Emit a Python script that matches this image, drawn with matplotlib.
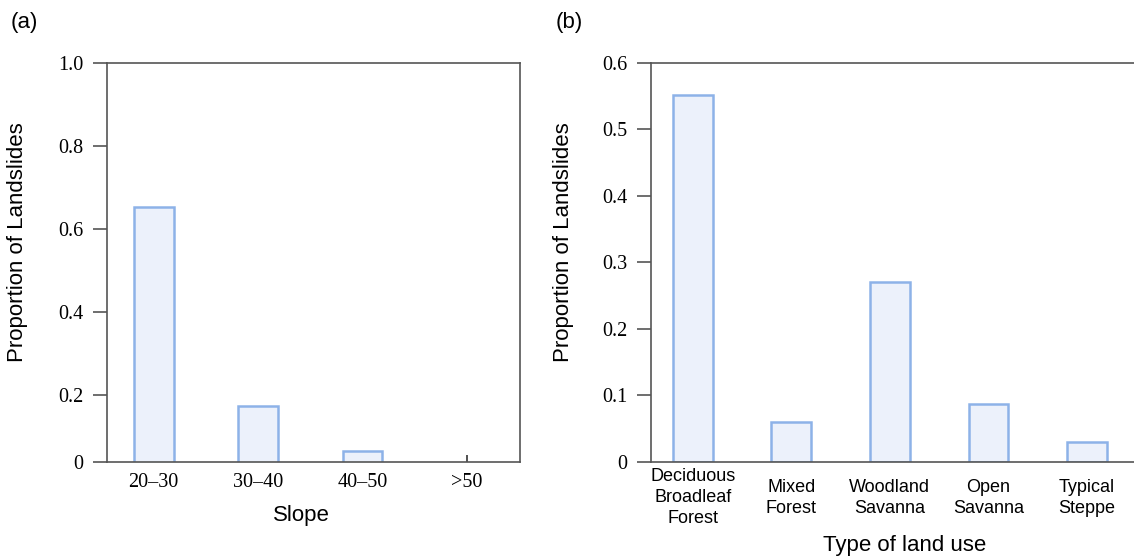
import matplotlib
matplotlib.use("Agg")
import matplotlib.pyplot as plt

# panel (a): slope classes
slope_classes = ["20\u201330", "30\u201340", "40\u201350", ">50"]
slope_props = [0.653, 0.173, 0.065, 0.0]
slope_yticks = [0.0386, 0.2, 0.4, 0.6, 0.8, 1.0]
slope_ylabels = ["0", "0.2", "0.4", "0.6", "0.8", "1.0"]

# panel (b): land use types
land_types = ["Deciduous\nBroadleaf\nForest", "Mixed\nForest", "Woodland\nSavanna",
              "Open\nSavanna", "Typical\nSteppe"]
land_props = [0.552, 0.060, 0.270, 0.087, 0.029]
land_yticks = [0, 0.1, 0.2, 0.3, 0.4, 0.5, 0.6]
land_ylabels = ["0", "0.1", "0.2", "0.3", "0.4", "0.5", "0.6"]

fill = "#ecf1fb"
edge = "#8db2e8"
spine_col = "#555555"
serif = ["Liberation Serif", "DejaVu Serif"]
sans = ["Liberation Sans", "DejaVu Sans"]

fig = plt.figure(figsize=(11.34, 5.59), dpi=100)
ax1 = fig.add_axes([0.0941, 0.174, 0.3645, 0.7138])
ax2 = fig.add_axes([0.5738, 0.174, 0.4359, 0.7138])


def style(ax):
    for s in ax.spines.values():
        s.set_color(spine_col)
        s.set_linewidth(1.2)
    ax.tick_params(axis="y", direction="out", length=10, width=1.2, color=spine_col, pad=7)
    ax.tick_params(axis="x", direction="in", length=5, width=1.2, color="#333333")
    for lab in ax.get_yticklabels():
        lab.set_fontfamily(serif)
        lab.set_fontsize(14.5)


# (a)
x1 = range(len(slope_classes))
ax1.bar(x1, slope_props, width=0.38, color=fill, edgecolor=edge, linewidth=1.8, zorder=2)
ax1.set_xlim(-0.45, 3.51)
ax1.set_ylim(slope_yticks[0], 1.0)
ax1.set_xticks(list(x1))
ax1.set_xticklabels(slope_classes, fontfamily=serif, fontsize=14.5)
ax1.set_yticks(slope_yticks)
ax1.set_yticklabels(slope_ylabels)
style(ax1)
ax1.tick_params(axis="x", pad=8)
ax1.set_ylabel("Proportion of Landslides", fontfamily=sans, fontsize=16)
ax1.yaxis.set_label_coords(-0.19, 0.55)
ax1.set_xlabel("Slope", fontfamily=sans, fontsize=16, va="center")
ax1.xaxis.set_label_coords(0.472, -0.134)

# (b)
x2 = range(len(land_types))
ax2.bar(x2, land_props, width=0.405, color=fill, edgecolor=edge, linewidth=1.8, zorder=2)
ax2.set_xlim(-0.426, 4.587)
ax2.set_ylim(0, 0.6)
ax2.set_xticks(list(x2))
ax2.set_xticklabels(land_types, fontfamily=sans, fontsize=13, va="center", linespacing=1.3)
ax2.set_yticks(land_yticks)
ax2.set_yticklabels(land_ylabels)
style(ax2)
ax2.tick_params(axis="x", pad=26)
ax2.set_ylabel("Proportion of Landslides", fontfamily=sans, fontsize=16)
ax2.yaxis.set_label_coords(-0.155, 0.55)
ax2.set_xlabel("Type of land use", fontfamily=sans, fontsize=16, va="center")
ax2.xaxis.set_label_coords(0.514, -0.209)

fig.text(0.0097, 0.96, "(a)", fontfamily=sans, fontsize=16, va="center")
fig.text(0.490, 0.96, "(b)", fontfamily=sans, fontsize=16, va="center")

fig.savefig("out.png", dpi=100)
